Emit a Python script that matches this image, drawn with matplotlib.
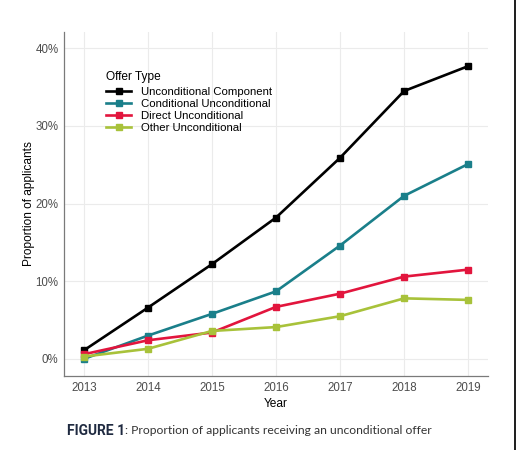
import numpy as np
import matplotlib
matplotlib.use("agg")
import matplotlib.pyplot as plt
from matplotlib.patches import Rectangle
from matplotlib.ticker import FuncFormatter

plt.rcParams["font.family"] = ["Liberation Sans", "DejaVu Sans"]

# data (percent of applicants)
years = [2013, 2014, 2015, 2016, 2017, 2018, 2019]
unconditional_component = [1.1, 6.6, 12.2, 18.2, 25.9, 34.5, 37.7]
conditional_unconditional = [0.0, 3.0, 5.8, 8.7, 14.6, 21.0, 25.1]
direct_unconditional = [0.6, 2.4, 3.4, 6.7, 8.4, 10.6, 11.5]
other_unconditional = [0.3, 1.3, 3.6, 4.1, 5.5, 7.8, 7.6]

series_names = ["Unconditional Component", "Conditional Unconditional",
                "Direct Unconditional", "Other Unconditional"]
series_values = [unconditional_component, conditional_unconditional,
                 direct_unconditional, other_unconditional]
COLORS = ["#000000", "#1a7f8a", "#e2153d", "#a8c23a"]

W, H = 516, 450
fig = plt.figure(figsize=(W / 100, H / 100), dpi=100)
ax = fig.add_axes([64 / W, 1 - 376 / H, (488 - 64) / W, (376 - 32) / H])

for name, vals, col in zip(series_names, series_values, COLORS):
    ax.plot(years, vals, color=col, lw=1.9, marker="s", ms=4.4, label=name)

ax.set_xlim(2013 - 0.31, 2019 + 0.31)
ax.set_ylim(-2.2, 42.1)
ax.set_xticks(years)
ax.set_yticks([0, 10, 20, 30, 40])
ax.yaxis.set_major_formatter(FuncFormatter(lambda v, p: "{:.0f}%".format(v)))
ax.grid(True, color="#ebebeb", lw=0.8)
ax.set_axisbelow(True)
for s in ["top", "right"]:
    ax.spines[s].set_visible(False)
for s in ["left", "bottom"]:
    ax.spines[s].set_color("#7a7a7a")
    ax.spines[s].set_linewidth(0.9)
ax.tick_params(length=0, labelsize=8.3, labelcolor="#4d4d4d", pad=4)
ax.set_xlabel("Year", fontsize=8.6, labelpad=3)
ax.set_ylabel("Proportion of applicants", fontsize=8.6, labelpad=0.5)

leg = ax.legend(title="Offer Type", loc="upper left",
                bbox_to_anchor=(106 / W, 1 - 71 / H),
                bbox_transform=fig.transFigure, frameon=False,
                fontsize=8.2, title_fontsize=8.6, borderpad=0,
                borderaxespad=0, handlelength=2.2, handletextpad=0.9,
                labelspacing=0.18, alignment="left")
leg._legend_box.sep = 3

# caption under the chart
cap1 = fig.text(67 / W, 1 - 431 / H, "FIGURE 1", fontsize=10,
                fontweight="bold", color="#1f2a40", va="center",
                family=["Roboto", "DejaVu Sans"])
fig.canvas.draw()
bb = cap1.get_window_extent()
fig.text(bb.x1 / W, 1 - 431 / H,
         ": Proportion of applicants receiving an unconditional offer",
         fontsize=8.7, color="#333333", va="center", family=["Lato", "DejaVu Sans"])

# dark strip along the right edge of the image
fig.add_artist(Rectangle((514 / W, 0), 2 / W, 1, transform=fig.transFigure,
                         color="#222222", lw=0))

plt.savefig("out.png", dpi=100)
